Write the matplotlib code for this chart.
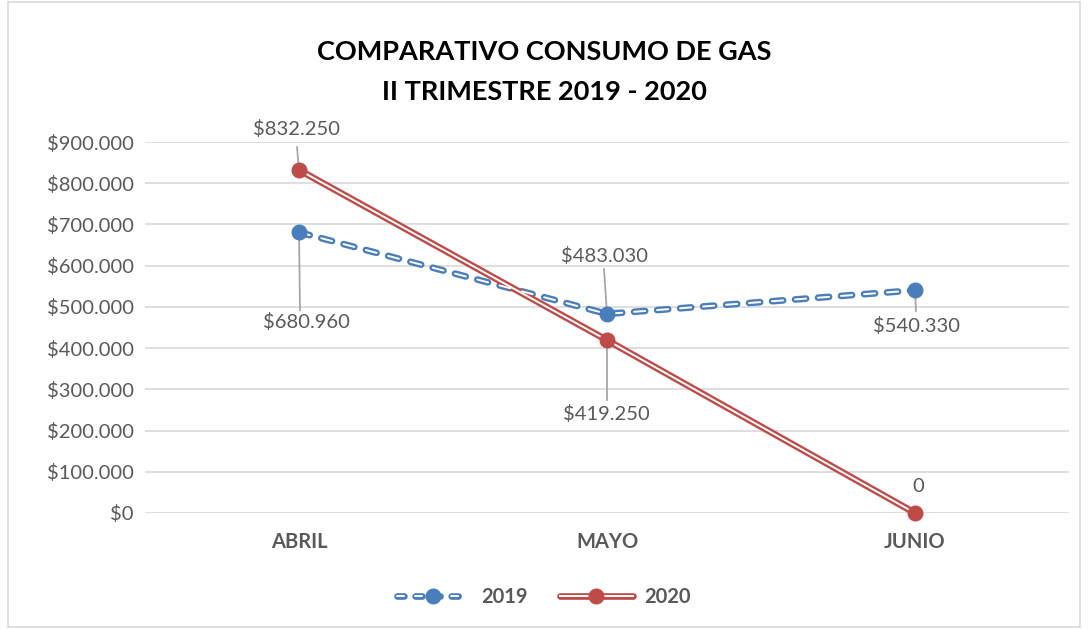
import matplotlib
matplotlib.use("Agg")
import matplotlib.pyplot as plt
from matplotlib.lines import Line2D
from matplotlib.patches import Rectangle
from matplotlib.legend_handler import HandlerTuple

categories = ["ABRIL", "MAYO", "JUNIO"]
s2019 = [680960, 483030, 540330]
s2020 = [832250, 419250, 0]
yticks = [0, 100000, 200000, 300000, 400000, 500000, 600000, 700000, 800000, 900000]

plt.rcParams['font.family'] = ['Lato', 'DejaVu Sans']
plt.rcParams['lines.scale_dashes'] = False

def fmt(v):
    if v == 0:
        return "$0"
    return "$" + f"{v:,}".replace(",", ".")

BLUE = "#4a7ebb"
RED = "#be4b48"
GRAY = "#595959"
FS = 14.5
DASH = (8, 8.6)

fig = plt.figure(figsize=(10.88, 6.29), dpi=100)
ax = fig.add_axes([145/1088, 1-513/629, (1069-145)/1088, (513-142)/629])
fig.patches.append(Rectangle((8/1088, 2/629), (1080-8)/1088, (627-2)/629, transform=fig.transFigure,
                             fill=False, edgecolor="#d9d9d9", linewidth=1.2))

x = list(range(len(categories)))
ax.set_xlim(-0.5, 2.5)
ax.set_ylim(0, 900000)
ax.set_yticks(yticks)
ax.set_yticklabels([fmt(v) for v in yticks])
ax.set_xticks(x)
ax.set_xticklabels(categories, fontweight='bold')
ax.grid(axis='y', color='#d9d9d9', linewidth=1.2)
ax.set_axisbelow(True)
for sp in ax.spines.values():
    sp.set_visible(False)
ax.tick_params(axis='both', length=0, colors=GRAY, labelsize=FS)
ax.tick_params(axis='y', pad=8)
ax.tick_params(axis='x', pad=14)

# 2019: dashed double line
ax.plot(x, s2019, color=BLUE, lw=4.8, dashes=DASH, dash_capstyle='round', zorder=3)
ax.plot(x, s2019, color='white', lw=1.4, dashes=DASH, dash_capstyle='round', zorder=4)
ax.plot(x, s2019, ls='none', marker='o', ms=10.5, color=BLUE, zorder=6, clip_on=False)
# 2020: solid double line
ax.plot(x, s2020, color=RED, lw=4.8, solid_capstyle='round', zorder=3, clip_on=False)
ax.plot(x, s2020, color='white', lw=1.4, zorder=4, clip_on=False)
ax.plot(x, s2020, ls='none', marker='o', ms=10.5, color=RED, zorder=6, clip_on=False)

lead = dict(arrowstyle='-', color='#a6a6a6', lw=1.3, shrinkA=0, shrinkB=0)
lab = dict(fontsize=FS, color=GRAY, ha='center', va='center', zorder=7)
labels = [
    (0, s2019[0], fmt(s2019[0]), (7, -90), (1, -78)),
    (1, s2019[1], fmt(s2019[1]), (-3, 58), (-3, 45)),
    (2, s2019[2], fmt(s2019[2]), (1, -36), (1, -21)),
    (0, s2020[0], fmt(s2020[0]), (-3, 41), (-2, 23)),
    (1, s2020[1], fmt(s2020[1]), (-1, -74), (0, -60)),
    (2, s2020[2], "0", (3, 27), None),
]
for xi, yi, txt, (dx, dy), ls in labels:
    ax.annotate(txt, (xi, yi), xytext=(dx * 0.72, dy * 0.72), textcoords='offset points',
                annotation_clip=False, **lab)
    if ls is not None:
        ax.annotate("", (xi, yi), xytext=(ls[0] * 0.72, ls[1] * 0.72), textcoords='offset points',
                    arrowprops=lead, zorder=5)

fig.text(0.5, 1-52/629, "COMPARATIVO CONSUMO DE GAS", ha='center', va='center',
         fontsize=19.5, fontweight='bold', color='black')
fig.text(0.5, 1-92/629, "II TRIMESTRE 2019 - 2020", ha='center', va='center',
         fontsize=19.5, fontweight='bold', color='black')

LDASH = (5, 8)
h19a = Line2D([], [], color=BLUE, lw=4.8, dashes=LDASH, dash_capstyle='round')
h19b = Line2D([], [], color='white', lw=1.4, dashes=LDASH, dash_capstyle='round')
h19c = Line2D([], [], ls='none', marker='o', ms=10.5, color=BLUE)
h20a = Line2D([], [], color=RED, lw=4.8, solid_capstyle='round')
h20b = Line2D([], [], color='white', lw=1.4)
h20c = Line2D([], [], ls='none', marker='o', ms=10.5, color=RED)
leg = fig.legend([(h19a, h19b, h19c), (h20a, h20b, h20c)], ["2019", "2020"],
                 handler_map={tuple: HandlerTuple(ndivide=1, pad=0)},
                 loc='center', bbox_to_anchor=(0.5, 1-597/629), ncol=2, frameon=False,
                 handlelength=3.6, columnspacing=1.6, handletextpad=0.6,
                 prop={'size': FS, 'weight': 'bold'})
for t in leg.get_texts():
    t.set_color(GRAY)

fig.savefig("out.png", dpi=100)
